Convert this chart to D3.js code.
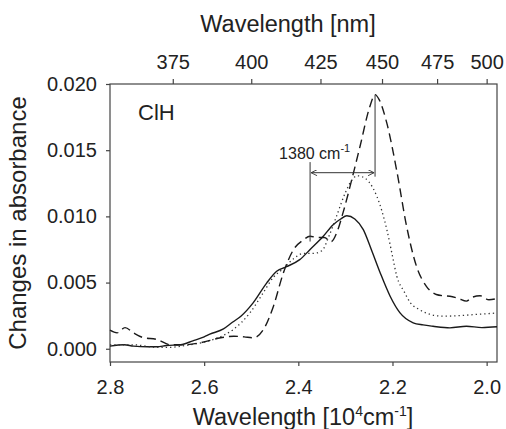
<!DOCTYPE html>
<html>
<head>
<meta charset="utf-8">
<script src="https://cdn.jsdelivr.net/npm/d3@7"></script>
<style>
  body { margin: 0; background: #fff; }
  text { font-family: "Liberation Sans", Arial, sans-serif; fill: #222; }
</style>
</head>
<body>
<div id="chart"></div>
<script>
var svgwidth = 506;
var svgheight = 429;
var margin = {top: 84, right: 9, bottom: 67, left: 110};

// wavenumber in 10^4 cm^-1 and change in absorbance
var solidX = [2.80, 2.77, 2.75, 2.72, 2.70, 2.68, 2.65, 2.624, 2.60, 2.588, 2.559, 2.54, 2.522, 2.496, 2.467, 2.446, 2.425, 2.397, 2.375, 2.347, 2.326, 2.31, 2.297, 2.28, 2.262, 2.245, 2.226, 2.205, 2.184, 2.156, 2.135, 2.114, 2.078, 2.043, 2.01, 1.978];
var solidY = [0.0002, 0.0003, 0.0002, 0.00015, 0.00015, 0.00025, 0.0003, 0.0006, 0.0009, 0.0011, 0.0015, 0.0020, 0.00246, 0.00347, 0.00498, 0.00585, 0.0062, 0.00673, 0.0075, 0.0085, 0.00937, 0.0098, 0.01005, 0.0098, 0.009, 0.0075, 0.00573, 0.00397, 0.00271, 0.00196, 0.0018, 0.0017, 0.00158, 0.0017, 0.0016, 0.00166];

var dottedX = [2.80, 2.75, 2.70, 2.68, 2.63, 2.60, 2.573, 2.538, 2.503, 2.475, 2.453, 2.434, 2.41, 2.39, 2.37, 2.35, 2.335, 2.319, 2.30, 2.285, 2.276, 2.265, 2.25, 2.233, 2.212, 2.2, 2.191, 2.175, 2.162, 2.145, 2.128, 2.093, 2.06, 2.02, 1.978];
var dottedY = [0.0003, 0.0003, 0.0001, 0.0001, 0.0003, 0.0005, 0.0008, 0.00146, 0.0027, 0.0042, 0.0054, 0.006, 0.0068, 0.0072, 0.0072, 0.0074, 0.0085, 0.01, 0.0118, 0.0128, 0.01307, 0.013, 0.0126, 0.0115, 0.009, 0.007, 0.0055, 0.0043, 0.00347, 0.003, 0.0027, 0.00246, 0.0025, 0.0026, 0.0027];

var dashedX = [2.80, 2.785, 2.768, 2.75, 2.73, 2.70, 2.672, 2.644, 2.609, 2.565, 2.537, 2.515, 2.496, 2.474, 2.453, 2.432, 2.41, 2.39, 2.375, 2.36, 2.345, 2.33, 2.318, 2.305, 2.283, 2.269, 2.248, 2.237, 2.228, 2.212, 2.19, 2.17, 2.149, 2.128, 2.107, 2.09, 2.078, 2.06, 2.043, 2.03, 2.014, 1.995, 1.978];
var dashedY = [0.0014, 0.0012, 0.0016, 0.0012, 0.00085, 0.0007, 0.0003, 0.0003, 0.00045, 0.00083, 0.00095, 0.0009, 0.00083, 0.00146, 0.0032, 0.0057, 0.0075, 0.0082, 0.0085, 0.0084, 0.0084, 0.0081, 0.0088, 0.01028, 0.01327, 0.01528, 0.0183, 0.0192, 0.0188, 0.01704, 0.01327, 0.00925, 0.00623, 0.00472, 0.0041, 0.0040, 0.00397, 0.0038, 0.0036, 0.0039, 0.0040, 0.0037, 0.0038];

var bottomTicks = [2.8, 2.6, 2.4, 2.2, 2.0];
var topTicksNm = [375, 400, 425, 450, 475, 500];
var yTicks = [0.000, 0.005, 0.010, 0.015, 0.020];

// 1380 cm-1 marker: positions in 10^4 cm^-1
var markLeft = 2.375, markRight = 2.237;

var svg = d3.select("#chart")
            .append("svg")
            .attr("width", svgwidth)
            .attr("height", svgheight);

var inner_width = svgwidth - margin.left - margin.right;
var inner_height = svgheight - margin.top - margin.bottom;

var g = svg.append("g")
           .attr("transform", "translate(" + margin.left + "," + margin.top + ")");

var xscale = d3.scaleLinear().domain([2.8, 1.978]).range([0, inner_width]);
var yscale = d3.scaleLinear().domain([-0.001, 0.020]).range([inner_height, 0]);

var axisColor = "#444";

function styleAxis(sel) {
    sel.select(".domain").remove();
    sel.selectAll("line").attr("stroke", axisColor).attr("stroke-width", 1.2);
    sel.selectAll("text").style("font-size", "20px").attr("fill", "#222")
       .style("font-family", "'Liberation Sans', Arial, sans-serif");
}

// bottom axis
g.append("g")
    .attr("transform", "translate(0," + inner_height + ")")
    .call(d3.axisBottom(xscale).tickValues(bottomTicks).tickSize(4).tickPadding(14).tickFormat(d3.format(".1f")))
    .call(styleAxis);

// top axis in nm
g.append("g")
    .call(d3.axisTop(xscale).tickValues(topTicksNm.map(function(nm) { return 1000 / nm; }))
            .tickSize(5).tickPadding(10)
            .tickFormat(function(d) { return Math.round(1000 / d); }))
    .call(styleAxis);

// left axis
g.append("g")
    .call(d3.axisLeft(yscale).tickValues(yTicks).tickSize(4).tickPadding(9).tickFormat(d3.format(".3f")))
    .call(styleAxis);

// frame
g.append("rect")
    .attr("width", inner_width)
    .attr("height", inner_height)
    .attr("fill", "none")
    .attr("stroke", axisColor)
    .attr("stroke-width", 1.2);

var line = d3.line()
    .x(function(d) { return xscale(d[0]); })
    .y(function(d) { return yscale(d[1]); })
    .curve(d3.curveMonotoneX);

function pairs(xs, ys) { return xs.map(function(x, i) { return [x, ys[i]]; }); }

g.append("path").datum(pairs(solidX, solidY))
    .attr("d", line).attr("fill", "none")
    .attr("stroke", "#1a1a1a").attr("stroke-width", 1.4);

g.append("path").datum(pairs(dottedX, dottedY))
    .attr("d", line).attr("fill", "none")
    .attr("stroke", "#333").attr("stroke-width", 1.3)
    .attr("stroke-dasharray", "1.3,3");

g.append("path").datum(pairs(dashedX, dashedY))
    .attr("d", line).attr("fill", "none")
    .attr("stroke", "#1a1a1a").attr("stroke-width", 1.4)
    .attr("stroke-dasharray", "9,5");

// 1380 cm-1 annotation
var arrowY = 0.0133;
g.append("line")
    .attr("x1", xscale(markLeft)).attr("x2", xscale(markLeft))
    .attr("y1", yscale(0.0141)).attr("y2", yscale(0.0081))
    .attr("stroke", "#333").attr("stroke-width", 1);
g.append("line")
    .attr("x1", xscale(markRight)).attr("x2", xscale(markRight))
    .attr("y1", yscale(0.0192)).attr("y2", yscale(0.0130))
    .attr("stroke", "#333").attr("stroke-width", 1);

svg.append("defs").append("marker")
    .attr("id", "ah")
    .attr("viewBox", "0 0 10 10")
    .attr("refX", 10).attr("refY", 5)
    .attr("markerWidth", 8).attr("markerHeight", 6)
    .attr("markerUnits", "userSpaceOnUse")
    .attr("orient", "auto-start-reverse")
    .append("path")
    .attr("d", "M0,0 L10,5 L0,10")
    .attr("fill", "none").attr("stroke", "#333").attr("stroke-width", 1.5);

g.append("line")
    .attr("x1", xscale(markLeft) + 1).attr("x2", xscale(markRight) - 1)
    .attr("y1", yscale(arrowY)).attr("y2", yscale(arrowY))
    .attr("stroke", "#333").attr("stroke-width", 1)
    .attr("marker-start", "url(#ah)")
    .attr("marker-end", "url(#ah)");

var ann = g.append("text")
    .attr("x", xscale(markLeft) - 31)
    .attr("y", 159 - margin.top)
    .style("font-size", "16px");
ann.append("tspan").text("1380 cm");
ann.append("tspan").attr("dy", -7).style("font-size", "11px").text("-1");

// sample label
g.append("text")
    .attr("x", 28).attr("y", 120 - margin.top)
    .style("font-size", "22px")
    .text("ClH");

// axis titles
svg.append("text")
    .attr("x", 288).attr("y", 32)
    .style("text-anchor", "middle")
    .style("font-size", "23.5px")
    .text("Wavelength [nm]");

var bt = svg.append("text")
    .attr("x", 303).attr("y", 425)
    .style("text-anchor", "middle")
    .style("font-size", "23.5px");
bt.append("tspan").text("Wavelength [10");
bt.append("tspan").attr("dy", -9).style("font-size", "14px").text("4");
bt.append("tspan").attr("dy", 9).text("cm");
bt.append("tspan").attr("dy", -9).style("font-size", "14px").text("-1");
bt.append("tspan").attr("dy", 9).text("]");

svg.append("text")
    .attr("transform", "translate(26,223) rotate(-90)")
    .style("text-anchor", "middle")
    .style("font-size", "24px")
    .text("Changes in absorbance");
</script>
</body>
</html>
